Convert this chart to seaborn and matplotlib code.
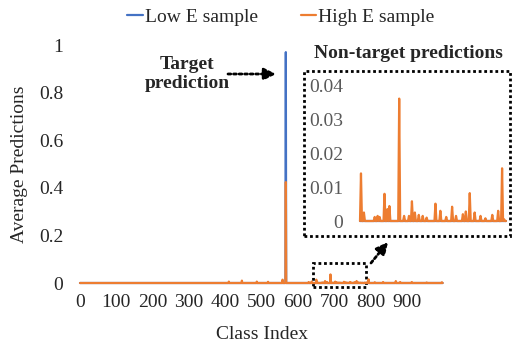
import numpy as np
import pandas as pd
import matplotlib
import matplotlib.pyplot as plt
import seaborn as sns
from matplotlib.patches import Rectangle

matplotlib.use("Agg")

# --- data ---
n_classes = 1000
target_class = 567
low_e_target = 0.97
high_e_target = 0.424

# non-target peaks of the High E sample (class index, average prediction)
high_e_peak_idx = [410, 446, 487, 518, 558, 630, 638,
                   651, 654, 665, 668, 670, 675, 678, 680, 690, 695, 700, 703, 706,
                   710, 714, 718, 727, 732, 738, 744, 748, 755, 758, 762, 767, 773,
                   778, 785, 791, 795, 797,
                   812, 835, 870, 882, 914, 955, 997]
high_e_peak_val = [0.006, 0.010, 0.006, 0.005, 0.014, 0.004, 0.006,
                   0.014, 0.0025, 0.0012, 0.0015, 0.0012, 0.008, 0.0035, 0.0044, 0.036, 0.0015, 0.0015, 0.0058, 0.0025,
                   0.0018, 0.0015, 0.001, 0.0051, 0.003, 0.0012, 0.0042, 0.0015, 0.002, 0.0028, 0.0082, 0.0025, 0.0015,
                   0.0008, 0.0018, 0.003, 0.0155, 0.0005,
                   0.003, 0.004, 0.008, 0.004, 0.004, 0.002, 0.003]

inset_lo, inset_hi = 650, 799

x_ticks = [0, 100, 200, 300, 400, 500, 600, 700, 800, 900]
y_ticks = [0, 0.2, 0.4, 0.6, 0.8, 1]
y_tick_labels = ["0", "0.2", "0.4", "0.6", "0.8", "1"]
inset_ticks = [0, 0.01, 0.02, 0.03, 0.04]
inset_tick_labels = ["0", "0.01", "0.02", "0.03", "0.04"]

BLUE = "#4472C4"
ORANGE = "#ED7D31"

# --- build the series table ---
low_e = np.zeros(n_classes)
low_e[target_class] = low_e_target
high_e = np.zeros(n_classes)
high_e[high_e_peak_idx] = high_e_peak_val
high_e[target_class] = high_e_target

df = pd.DataFrame({
    "Class Index": np.arange(n_classes),
    "Low E sample": low_e,
    "High E sample": high_e,
})

sns.set_style("white")
plt.rcParams["font.family"] = ["Liberation Serif", "DejaVu Serif"]
plt.rcParams["font.size"] = 14

W, H = 512, 345
fig = plt.figure(figsize=(W / 100, H / 100), dpi=100)

# main axes: x=0 at px 80, x=1000 at px 443; y=0 at px 283, y=1 at px 45
ax = fig.add_axes([80 / W, 1 - 283 / H, (443 - 80) / W, (283 - 45) / H])
sns.lineplot(data=df, x="Class Index", y="Low E sample", ax=ax, color=BLUE,
             linewidth=1.6, estimator=None, clip_on=False)
sns.lineplot(data=df, x="Class Index", y="High E sample", ax=ax, color=ORANGE,
             linewidth=1.6, estimator=None, clip_on=False)
ax.set_xlim(0, 1000)
ax.set_ylim(0, 1)
ax.set_xticks(x_ticks)
ax.set_yticks(y_ticks)
ax.set_yticklabels(y_tick_labels)
ax.tick_params(axis="both", length=0, labelsize=14)
ax.tick_params(axis="y", pad=12)
ax.tick_params(axis="x", pad=8)
ax.set_xlabel("Class Index", fontsize=14, labelpad=11)
ax.set_ylabel("Average Predictions", fontsize=14, labelpad=8)
for s in ax.spines.values():
    s.set_visible(False)

# dotted zoom box in the main plot
ax.add_patch(Rectangle((642, -0.017), 146, 0.101, fill=False, edgecolor="black",
                       linestyle=(0, (1, 1)), linewidth=2, clip_on=False))

# inset axes
ax_in = fig.add_axes([360 / W, 1 - 221 / H, (506 - 360) / W, (221 - 85) / H])
sub = df[(df["Class Index"] >= inset_lo) & (df["Class Index"] <= inset_hi)]
sns.lineplot(data=sub, x="Class Index", y="Low E sample", ax=ax_in, color=BLUE,
             linewidth=1.6, estimator=None, clip_on=False)
sns.lineplot(data=sub, x="Class Index", y="High E sample", ax=ax_in, color=ORANGE,
             linewidth=1.6, estimator=None, clip_on=False)
ax_in.set_xlim(inset_lo, inset_hi)
ax_in.set_ylim(0, 0.04)
ax_in.set_xticks([])
ax_in.set_yticks(inset_ticks)
ax_in.set_yticklabels(inset_tick_labels)
ax_in.tick_params(axis="y", length=0, labelsize=14, labelcolor="#595959", pad=12)
ax_in.set_xlabel("")
ax_in.set_ylabel("")
ax_in.patch.set_alpha(0)
for s in ax_in.spines.values():
    s.set_visible(False)

# dotted frame around inset (figure pixels)
fig.patches.append(Rectangle((304 / W, 1 - 236 / H), (510 - 304) / W, (236 - 71) / H,
                             transform=fig.transFigure, fill=False, edgecolor="black",
                             linestyle=(0, (1, 1)), linewidth=2))
fig.text(408 / W, 1 - 53 / H, "Non-target predictions", ha="center", va="center",
         fontsize=14, fontweight="bold")

# target annotation
fig.text(187 / W, 1 - 74 / H, "Target\nprediction", ha="center", va="center",
         fontsize=14, fontweight="bold", linespacing=1.15)
arrow_kw = dict(arrowstyle="-|>,head_length=0.5,head_width=0.25", color="black",
                linestyle=(0, (1, 1)), linewidth=2, shrinkA=0, shrinkB=0)
fig.add_artist(matplotlib.patches.FancyArrowPatch(
    (228 / W, 1 - 74 / H), (276 / W, 1 - 74 / H), transform=fig.transFigure,
    mutation_scale=14, **arrow_kw))
fig.add_artist(matplotlib.patches.FancyArrowPatch(
    (371 / W, 1 - 263 / H), (388 / W, 1 - 242 / H), transform=fig.transFigure,
    mutation_scale=14, **arrow_kw))

# legend
handles = [matplotlib.lines.Line2D([], [], color=BLUE, linewidth=1.6),
           matplotlib.lines.Line2D([], [], color=ORANGE, linewidth=1.6)]
fig.legend(handles, ["Low E sample", "High E sample"], loc="center",
           bbox_to_anchor=(281 / W, 1 - 17 / H), ncol=2, frameon=False,
           handlelength=0.8, handletextpad=0.1, columnspacing=2.2, fontsize=14)

fig.savefig("out.png", dpi=100)
